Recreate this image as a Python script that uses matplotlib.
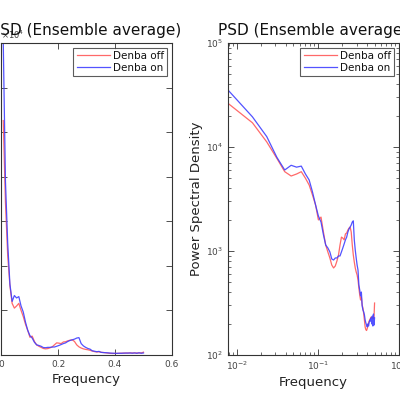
import numpy as np
import matplotlib
matplotlib.use("Agg")
import matplotlib.pyplot as plt
from matplotlib.ticker import ScalarFormatter, LogLocator, NullFormatter

# frequency bins (1/128 spacing)
freq = np.arange(1, 65) / 128

# PSD values
psd_off = [26300, 17100, 11200, 7780, 5790, 5260, 5500, 5790, 5010, 4310,
           3450, 2770, 1990, 2120, 1520, 1140, 980, 857, 733, 687,
           718, 802, 916, 1140, 1360, 1330, 1280, 1460, 1490, 1590,
           1660, 1700, 1520, 1140, 916, 783, 687, 628, 588, 526,
           441, 378, 338, 361, 303, 283, 250, 215, 185, 175,
           172, 180, 190, 205, 212, 220, 225, 232, 228, 226,
           230, 225, 232, 316]
psd_on = [35300, 19500, 12600, 7960, 6010, 6670, 6400, 6550, 5500, 4820,
          3690, 2770, 2170, 1900, 1430, 1140, 1070, 980, 838, 819,
          857, 857, 896, 896, 980, 1070, 1170, 1280, 1360, 1520,
          1630, 1700, 1780, 1900, 1950, 1280, 1020, 857, 733, 656,
          471, 422, 369, 403, 296, 271, 260, 243, 217, 203,
          194, 186, 199, 190, 208, 217, 212, 227, 199, 237,
          190, 248, 194, 227]

labels = ["Denba off", "Denba on"]
c_off = (1.0, 0.35, 0.35)
c_on = (0.25, 0.25, 1.0)
axcol = "#333333"

plt.rcParams["font.family"] = "DejaVu Sans"

fig = plt.figure(figsize=(4, 4), dpi=100)

def style(ax):
    for s in ax.spines.values():
        s.set_color(axcol)
        s.set_linewidth(0.8)
    ax.tick_params(which="both", direction="in", top=True, right=True,
                   colors=axcol, labelsize=6.5, labelcolor="#444444")
    ax.tick_params(which="major", length=4, width=0.6)
    ax.tick_params(which="minor", length=2.5, width=0.5)

def add_legend(ax):
    leg = ax.legend(loc="upper right", fontsize=7.5, frameon=True, fancybox=False,
                    edgecolor="#333333", handlelength=3.2, borderaxespad=0.45,
                    handletextpad=0.3, borderpad=0.3, labelspacing=0.2)
    leg.get_frame().set_linewidth(0.8)
    for t in leg.get_texts():
        t.set_color("#111111")

# linear plot (cut off on the left)
ax1 = fig.add_axes([0.0025, 0.1125, 0.4275, 0.78])
ax1.plot(freq, psd_off, color=c_off, lw=0.9, alpha=0.9, label=labels[0])
ax1.plot(freq, psd_on, color=c_on, lw=0.9, alpha=0.9, label=labels[1])
ax1.set_xlim(0, 0.6)
ax1.set_ylim(0, 35000)
ax1.set_xticks([0, 0.2, 0.4, 0.6])
ax1.set_xticklabels(["0", "0.2", "0.4", "0.6"])
ax1.set_yticks(np.arange(0, 35001, 5000))
fmt = ScalarFormatter(useMathText=True)
fmt.set_powerlimits((0, 0))
ax1.yaxis.set_major_formatter(fmt)
ax1.yaxis.get_offset_text().set_fontsize(6)
ax1.yaxis.get_offset_text().set_color("#555555")
ax1.set_xlabel("Frequency", fontsize=9.5, color="#222222", labelpad=3)
ax1.set_title("PSD (Ensemble average)", fontsize=11, y=1.0, pad=6, color="#111111")
style(ax1)
add_legend(ax1)

# log-log plot
ax2 = fig.add_axes([0.57, 0.1125, 0.4275, 0.78])
ax2.loglog(freq, psd_off, color=c_off, lw=0.9, alpha=0.9, label=labels[0])
ax2.loglog(freq, psd_on, color=c_on, lw=0.9, alpha=0.9, label=labels[1])
ax2.set_xlim(freq[0], 1)
ax2.set_ylim(1e2, 1e5)
ax2.xaxis.set_minor_locator(LogLocator(base=10, subs=np.arange(2, 10)))
ax2.yaxis.set_minor_locator(LogLocator(base=10, subs=np.arange(2, 10)))
ax2.xaxis.set_minor_formatter(NullFormatter())
ax2.yaxis.set_minor_formatter(NullFormatter())
ax2.set_xlabel("Frequency", fontsize=9.5, color="#222222", labelpad=3)
ax2.set_ylabel("Power Spectral Density", fontsize=9.5, color="#222222", labelpad=2)
ax2.set_title("PSD (Ensemble average)", fontsize=11, y=1.0, pad=6, color="#111111")
style(ax2)
add_legend(ax2)

fig.savefig("out.png", dpi=100)
